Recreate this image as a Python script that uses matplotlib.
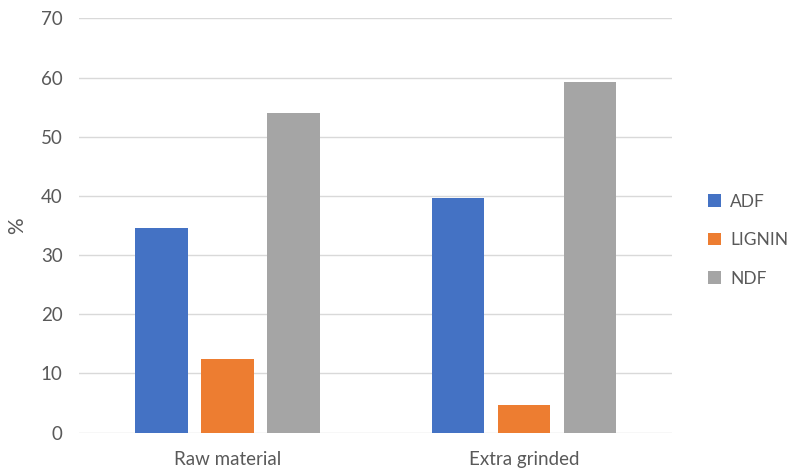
import matplotlib
matplotlib.use("Agg")
import matplotlib.pyplot as plt
import numpy as np
from matplotlib.patches import Patch

plt.rcParams['font.family'] = ['Lato', 'DejaVu Sans']

categories = ["Raw material", "Extra grinded"]
series_names = ["ADF", "LIGNIN", "NDF"]
adf = [34.5, 39.6]
lignin = [12.4, 4.7]
ndf = [54.0, 59.2]
y_ticks = [0, 10, 20, 30, 40, 50, 60, 70]

colors = ["#4472c4", "#ed7d31", "#a5a5a5"]
text_color = "#595959"

fig = plt.figure(figsize=(7.87, 4.70), dpi=100)
ax = fig.add_axes([0.1008, 0.0794, 0.7532, 0.8816])

x = np.arange(len(categories))
width = 0.177
step = 0.223
for i, (vals, col) in enumerate(zip([adf, lignin, ndf], colors)):
    ax.bar(x + (i - 1) * step, vals, width=width, color=col, zorder=3)

ax.set_xlim(-0.5, 1.5)
ax.set_ylim(0, 70)
ax.set_yticks(y_ticks)
ax.set_xticks(x)
ax.set_xticklabels(categories)
ax.grid(axis='y', color='#d9d9d9', linewidth=1.0, zorder=0)
for s in ax.spines.values():
    s.set_visible(False)
ax.tick_params(axis='y', length=0, pad=12, labelsize=13.5, labelcolor=text_color)
ax.tick_params(axis='x', length=0, pad=13, labelsize=13.5, labelcolor=text_color)
ax.set_ylabel("%", fontsize=15, color=text_color, labelpad=10)

handles = [Patch(facecolor=c, edgecolor='none') for c in colors]
fig.legend(handles, series_names, loc='center left', bbox_to_anchor=(0.88, 0.489),
           frameon=False, fontsize=12.5, labelcolor=text_color,
           handlelength=0.75, handleheight=0.75, handletextpad=0.5, labelspacing=1.3)

fig.savefig("out.png", dpi=100)
